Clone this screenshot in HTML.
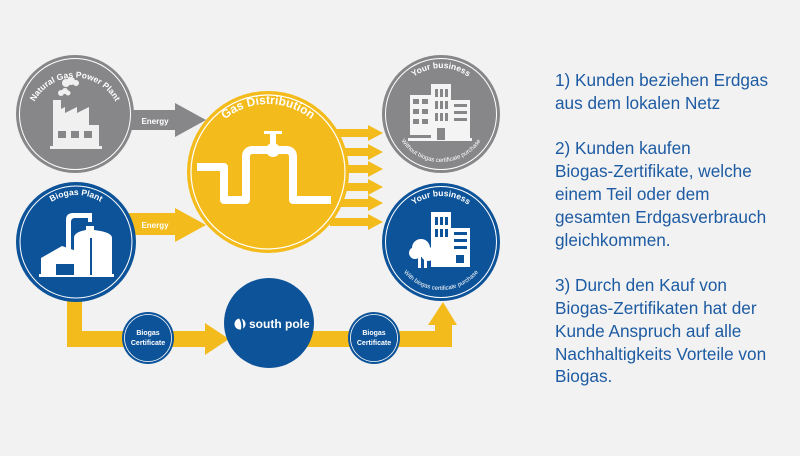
<!DOCTYPE html>
<html><head><meta charset="utf-8"><style>
html,body{margin:0;padding:0;background:#f2f2f2;}
body{width:800px;height:456px;position:relative;overflow:hidden;font-family:"Liberation Sans",Arial,sans-serif;}
#txt{position:absolute;left:555px;top:69px;font-size:17.2px;line-height:22.8px;color:#1d5ba3;white-space:nowrap;}
</style></head><body>
<svg width="800" height="456" viewBox="0 0 800 456" style="position:absolute;left:0;top:0" font-family="Liberation Sans, Arial, sans-serif" font-weight="bold">
<defs>
<path id="arcG1" d="M 30 114 A 46 46 0 0 1 120 114"/>
<path id="arcG2" d="M 395 114 A 46 46 0 0 1 487 114"/>
<path id="arcG3" d="M 393 114 A 48 48 0 0 0 489 114"/>
<path id="arcB1" d="M 29 242 A 47 47 0 0 1 123 242"/>
<path id="arcB2" d="M 395 242 A 46 46 0 0 1 487 242"/>
<path id="arcB3" d="M 393 242 A 48 48 0 0 0 489 242"/>
<path id="arcY" d="M 200 172 A 68 68 0 0 1 336 172"/>
</defs>
<!-- gray arrow -->
<polygon points="128,110 175,110 175,103 206,120 175,137 175,130 128,130" fill="#878789"/>
<text x="155" y="124" font-size="8" fill="#fff" text-anchor="middle">Energy</text>
<!-- yellow energy arrow -->
<polygon points="128,213 175,213 175,208 206,225 175,242 175,235 128,235" fill="#f3bb1b"/>
<text x="155" y="228" font-size="8" fill="#fff" text-anchor="middle">Energy</text>
<!-- right stripe arrows -->
<g fill="#f3bb1b">
<polygon points="330,129 368,129 368,125 383,133 368,141 368,137 330,137"/>
<polygon points="330,148 368,148 368,144 383,152 368,160 368,156 330,156"/>
<polygon points="330,165 368,165 368,161 383,169 368,177 368,173 330,173"/>
<polygon points="330,183 368,183 368,179 383,187 368,195 368,191 330,191"/>
<polygon points="330,199 368,199 368,195 383,203 368,211 368,207 330,207"/>
<polygon points="330,218 368,218 368,214 383,222 368,230 368,226 330,226"/>
</g>
<!-- bottom path -->
<g fill="#f3bb1b">
<polygon points="67,290 82,290 82,331 205,331 205,323 229,339 205,355 205,347 67,347"/>
<rect x="300" y="331" width="152" height="16"/>
<polygon points="435,347 452,347 452,325 457,325 443,302 428,325 435,325"/>
</g>
<!-- gray left circle -->
<circle cx="75" cy="114" r="59" fill="#878789"/>
<circle cx="75" cy="114" r="55.5" fill="none" stroke="#fff" stroke-width="1"/>
<text font-size="8.5" fill="#fff"><textPath href="#arcG1" startOffset="50%" text-anchor="middle">Natural Gas Power Plant</textPath></text>
<g fill="#f0f0f0">
<rect x="53" y="100" width="8" height="30"/>
<polygon points="53,130 53,113 65,107 65,113 77,107 77,113 89,107 89,130"/>
<rect x="50" y="146" width="52" height="3"/>
<rect x="53" y="125" width="46" height="22"/>
<circle cx="66" cy="83" r="4"/><circle cx="71" cy="81" r="4"/><circle cx="76" cy="83" r="3"/>
<circle cx="61" cy="93" r="3"/><circle cx="65" cy="91" r="3"/><circle cx="68" cy="93" r="2.5"/>
</g>
<g fill="#878789"><rect x="58" y="131" width="8" height="7"/><rect x="71" y="131" width="8" height="7"/><rect x="84" y="131" width="8" height="7"/></g>
<!-- right gray circle -->
<circle cx="441" cy="114" r="59" fill="#878789"/>
<circle cx="441" cy="114" r="55.5" fill="none" stroke="#fff" stroke-width="1"/>
<text font-size="8.5" fill="#fff"><textPath href="#arcG2" startOffset="50%" text-anchor="middle">Your business</textPath></text>
<text font-size="6" font-weight="normal" fill="#fff"><textPath href="#arcG3" startOffset="50%" text-anchor="middle">Without biogas certificate purchase</textPath></text>
<g fill="#f4f4f4">
<rect x="410" y="95" width="22" height="40"/>
<rect x="431" y="84" width="20" height="57"/>
<rect x="451" y="100" width="19" height="40"/>
<rect x="408" y="138" width="64" height="3"/>
</g>
<g fill="#878789">
<rect x="413" y="99" width="6" height="5"/><rect x="422" y="99" width="6" height="5"/>
<rect x="413" y="109" width="6" height="5"/><rect x="422" y="109" width="6" height="5"/>
<rect x="413" y="119" width="6" height="5"/><rect x="422" y="119" width="6" height="5"/>
<rect x="435" y="89" width="3" height="8"/><rect x="440" y="89" width="3" height="8"/><rect x="445" y="89" width="3" height="8"/>
<rect x="435" y="101" width="3" height="8"/><rect x="440" y="101" width="3" height="8"/><rect x="445" y="101" width="3" height="8"/>
<rect x="435" y="113" width="3" height="8"/><rect x="440" y="113" width="3" height="8"/><rect x="445" y="113" width="3" height="8"/>
<rect x="454" y="104" width="13" height="3"/><rect x="454" y="111" width="13" height="3"/><rect x="454" y="118" width="13" height="3"/>
<rect x="437" y="128" width="8" height="12"/>
</g>
<!-- gas distribution -->
<circle cx="268" cy="172" r="81" fill="#f3bb1b"/>
<circle cx="268" cy="172" r="77" fill="none" stroke="#fff" stroke-width="1.2"/>
<text font-size="12" fill="#fff"><textPath href="#arcY" startOffset="50%" text-anchor="middle">Gas Distribution</textPath></text>
<g fill="none" stroke="#fff" stroke-width="8" stroke-linejoin="round">
<path d="M197 167 H224 V200 H246 V157 Q246 150 253 150 H286 Q293 150 293 157 V200 H331"/>
</g>
<circle cx="273" cy="150" r="7" fill="#fff"/>
<rect x="270" y="133" width="6" height="12" fill="#fff"/>
<rect x="264" y="131" width="18" height="3" fill="#fff"/>
<!-- biogas plant -->
<circle cx="76" cy="242" r="60" fill="#0d5399"/>
<circle cx="76" cy="242" r="56" fill="none" stroke="#fff" stroke-width="1"/>
<text font-size="8.5" fill="#fff"><textPath href="#arcB1" startOffset="50%" text-anchor="middle">Biogas Plant</textPath></text>
<g fill="#fff">
<path d="M66 252 V220 Q66 213 73 213 H92 V222 H88 V218 H75 Q71 218 71 222 V252 Z"/>
<path d="M74 275 V238 Q74 232 86 230 V226 H94 V230 Q112 232 112 238 V275 Z"/>
<polygon points="41,275 41,258 62,246 88,255 88,275"/>
<rect x="39" y="274" width="75" height="3"/>
</g>
<rect x="56" y="264" width="18" height="11" fill="#0d5399"/>
<line x1="91" y1="238" x2="91" y2="275" stroke="#0d5399" stroke-width="2"/>
<!-- right blue -->
<circle cx="441" cy="242" r="59" fill="#0d5399"/>
<circle cx="441" cy="242" r="55.5" fill="none" stroke="#fff" stroke-width="1"/>
<text font-size="8.5" fill="#fff"><textPath href="#arcB2" startOffset="50%" text-anchor="middle">Your business</textPath></text>
<text font-size="6" font-weight="normal" fill="#fff"><textPath href="#arcB3" startOffset="50%" text-anchor="middle">With biogas certificate purchase</textPath></text>
<g fill="#fff">
<rect x="431" y="212" width="20" height="55"/>
<rect x="451" y="228" width="19" height="39"/>
<circle cx="421" cy="248" r="9"/><circle cx="415" cy="253" r="6"/><circle cx="428" cy="254" r="7"/>
<rect x="418" y="255" width="3" height="13"/><rect x="424" y="255" width="3" height="13"/>
</g>
<g fill="#0d5399">
<rect x="435" y="217" width="3" height="8"/><rect x="440" y="217" width="3" height="8"/><rect x="445" y="217" width="3" height="8"/>
<rect x="435" y="229" width="3" height="8"/><rect x="440" y="229" width="3" height="8"/><rect x="445" y="229" width="3" height="8"/>
<rect x="454" y="232" width="13" height="3"/><rect x="454" y="239" width="13" height="3"/><rect x="454" y="246" width="13" height="3"/>
<rect x="456" y="255" width="8" height="8"/>
</g>
<!-- south pole -->
<circle cx="269" cy="323" r="45" fill="#0d5399"/>
<circle cx="240" cy="324" r="5.5" fill="#fff"/>
<path d="M240 318 Q243 322 242 330" stroke="#0d5399" stroke-width="2" fill="none"/>
<text x="249" y="328" font-size="12" fill="#fff" font-weight="bold">south pole</text>
<!-- certs -->
<circle cx="148" cy="338" r="26" fill="#0d5399"/>
<circle cx="148" cy="338" r="23.5" fill="none" stroke="#fff" stroke-width="0.8"/>
<text x="148" y="335" font-size="7" fill="#fff" text-anchor="middle">Biogas</text>
<text x="148" y="345" font-size="7" fill="#fff" text-anchor="middle">Certificate</text>
<circle cx="374" cy="338" r="26" fill="#0d5399"/>
<circle cx="374" cy="338" r="23.5" fill="none" stroke="#fff" stroke-width="0.8"/>
<text x="374" y="335" font-size="7" fill="#fff" text-anchor="middle">Biogas</text>
<text x="374" y="345" font-size="7" fill="#fff" text-anchor="middle">Certificate</text>
</svg>
<div id="txt">1) Kunden beziehen Erdgas<br>aus dem lokalen Netz<br><br>2) Kunden kaufen<br>Biogas-Zertifikate, welche<br>einem Teil oder dem<br>gesamten Erdgasverbrauch<br>gleichkommen.<br><br>3) Durch den Kauf von<br>Biogas-Zertifikaten hat der<br>Kunde Anspruch auf alle<br>Nachhaltigkeits Vorteile von<br>Biogas.</div>
</body></html>
